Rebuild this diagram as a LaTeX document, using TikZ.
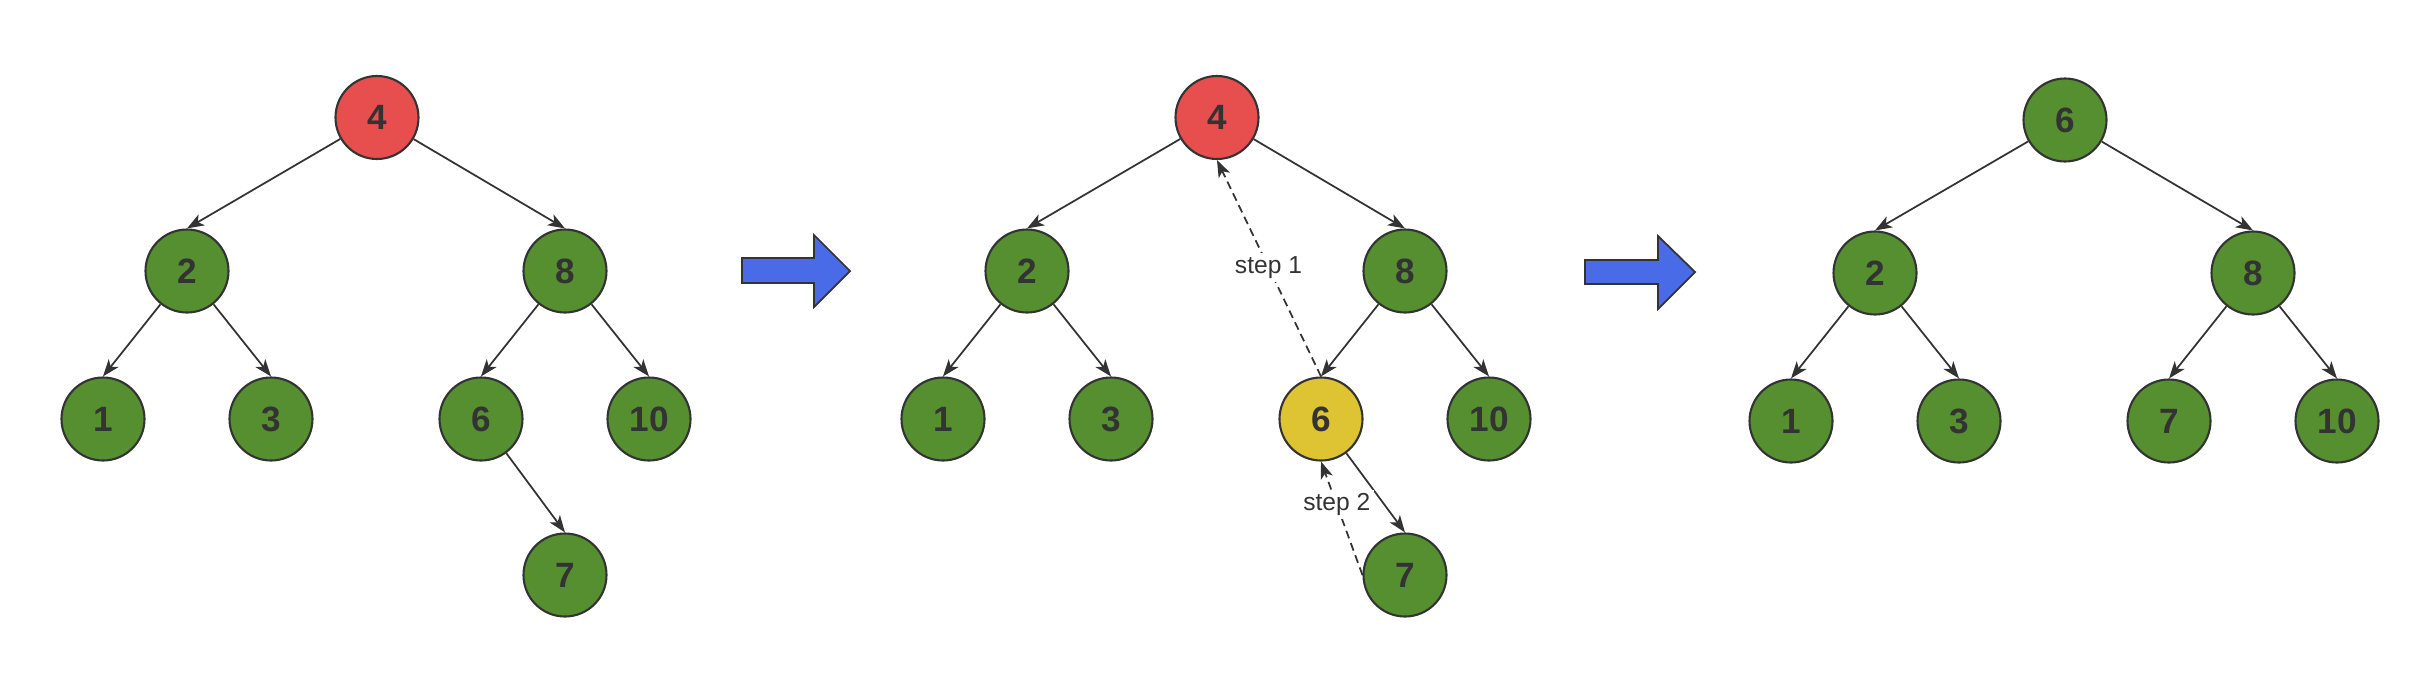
\documentclass[tikz,border=0pt]{standalone}
\usepackage{fontspec}
\setmainfont{Liberation Sans}
\usetikzlibrary{arrows.meta}

\definecolor{leafgreen}{HTML}{558F30}
\definecolor{rootred}{HTML}{E64F4D}
\definecolor{swapyellow}{HTML}{DEC332}
\definecolor{moveblue}{HTML}{4A6BE8}
\definecolor{inkgray}{HTML}{333333}

\begin{document}
\begin{tikzpicture}[
    key/.style={circle, draw=inkgray, line width=0.6pt, minimum size=0.83cm, inner sep=0pt,
        text=inkgray, font=\fontsize{10}{12}\selectfont\bfseries, fill=leafgreen},
    redkey/.style={key, fill=rootred},
    yellowkey/.style={key, fill=swapyellow},
    edge/.style={draw=inkgray, line width=0.5pt, -{Stealth[length=1.7mm, width=1.25mm, inset=0.45mm]}},
    stepedge/.style={edge, dash pattern=on 2.3pt off 1.4pt},
    steplabel/.style={fill=white, inner sep=1pt, text=inkgray, font=\fontsize{7}{8}\selectfont},
    blockarrow/.style={fill=moveblue, draw=inkgray, line width=0.5pt, line join=miter}
]

    % Fix the page size
    \useasboundingbox (0,0) rectangle (24.10,-6.78);

    % First tree: the key 4 is to be removed
    \node[redkey] (a4) at (3.77,-1.175) {4};
    \node[key] (a2) at (1.87,-2.71) {2};
    \node[key] (a8) at (5.65,-2.71) {8};
    \node[key] (a1) at (1.03,-4.19) {1};
    \node[key] (a3) at (2.71,-4.19) {3};
    \node[key] (a6) at (4.81,-4.19) {6};
    \node[key] (a10) at (6.49,-4.19) {10};
    \node[key] (a7) at (5.65,-5.75) {7};

    \draw[edge] (a4) -- (a2.north);
    \draw[edge] (a4) -- (a8.north);
    \draw[edge] (a2) -- (a1.north);
    \draw[edge] (a2) -- (a3.north);
    \draw[edge] (a8) -- (a6.north);
    \draw[edge] (a8) -- (a10.north);
    \draw[edge] (a6) -- (a7.north);

    % First block arrow
    \draw[blockarrow] (7.42,-2.58) -- (8.14,-2.58) -- (8.14,-2.35) -- (8.50,-2.71)
        -- (8.14,-3.07) -- (8.14,-2.83) -- (7.42,-2.83) -- cycle;

    % Second tree: the successor 6 moves up
    \node[redkey] (b4) at (12.17,-1.175) {4};
    \node[key] (b2) at (10.27,-2.71) {2};
    \node[key] (b8) at (14.05,-2.71) {8};
    \node[key] (b1) at (9.43,-4.19) {1};
    \node[key] (b3) at (11.11,-4.19) {3};
    \node[yellowkey] (b6) at (13.21,-4.19) {6};
    \node[key] (b10) at (14.89,-4.19) {10};
    \node[key] (b7) at (14.05,-5.75) {7};

    \draw[edge] (b4) -- (b2.north);
    \draw[edge] (b4) -- (b8.north);
    \draw[edge] (b2) -- (b1.north);
    \draw[edge] (b2) -- (b3.north);
    \draw[edge] (b8) -- (b6.north);
    \draw[edge] (b8) -- (b10.north);
    \draw[edge] (b6) -- (b7.north);

    % Dashed moves with their labels
    \draw[stepedge] (b6.north) -- node[steplabel, pos=0.505] {step 1} (b4.south);
    \draw[stepedge] (b7.west) -- node[steplabel, pos=0.62] {step 2} (b6.south);

    % Second block arrow
    \draw[blockarrow] (15.85,-2.60) -- (16.58,-2.60) -- (16.58,-2.36) -- (16.95,-2.72)
        -- (16.58,-3.09) -- (16.58,-2.84) -- (15.85,-2.84) -- cycle;

    % Third tree: the result
    \node[key] (c6) at (20.65,-1.20) {6};
    \node[key] (c2) at (18.75,-2.73) {2};
    \node[key] (c8) at (22.53,-2.73) {8};
    \node[key] (c1) at (17.91,-4.21) {1};
    \node[key] (c3) at (19.59,-4.21) {3};
    \node[key] (c7) at (21.69,-4.21) {7};
    \node[key] (c10) at (23.37,-4.21) {10};

    \draw[edge] (c6) -- (c2.north);
    \draw[edge] (c6) -- (c8.north);
    \draw[edge] (c2) -- (c1.north);
    \draw[edge] (c2) -- (c3.north);
    \draw[edge] (c8) -- (c7.north);
    \draw[edge] (c8) -- (c10.north);

\end{tikzpicture}
\end{document}
